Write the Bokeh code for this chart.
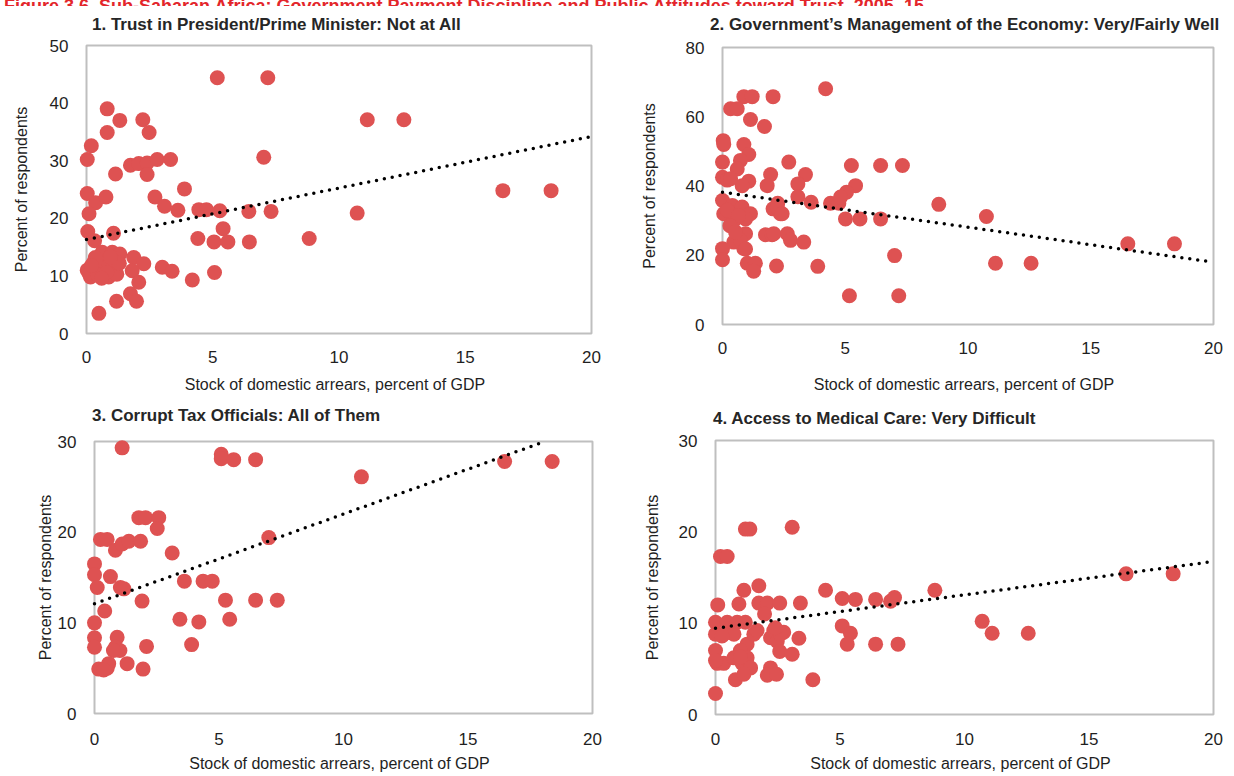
from bokeh.plotting import figure
from bokeh.models import Range1d, FixedTicker, Div
from bokeh.layouts import column, row
from bokeh.embed import file_html
from bokeh.resources import INLINE

# ---------------- data ----------------
fig_title = ("Figure 3.6. Sub-Saharan Africa: Government Payment Discipline and Public "
             "Attitudes toward Trust, 2005\u201315")
titles = [
    "1. Trust in President/Prime Minister: Not at All",
    "2. Government\u2019s Management of the Economy: Very/Fairly Well",
    "3. Corrupt Tax Officials: All of Them",
    "4. Access to Medical Care: Very Difficult",
]
x_label = "Stock of domestic arrears, percent of GDP"
y_label = "Percent of respondents"
x_ticks = [0, 5, 10, 15, 20]
y_ticks_1 = [0, 10, 20, 30, 40, 50]
y_ticks_2 = [0, 20, 40, 60, 80]
y_ticks_3 = [0, 10, 20, 30]
y_ticks_4 = [0, 10, 20, 30]

p1_x = [5.18, 7.18, 0.82, 1.32, 2.23, 0.82, 2.48, 0.19, 0.03, 7.02, 1.74, 2.07, 2.40, 2.80, 3.33,
        2.40, 1.15, 3.88, 0.03, 0.36, 0.77, 2.71, 3.09, 3.62, 0.10, 4.45, 4.75, 5.28, 6.43, 7.31,
        5.41, 0.05, 1.07, 4.41, 5.05, 5.60, 6.45, 8.82, 0.32, 10.72, 11.12, 12.57, 16.49, 18.40,
        0.03, 0.29, 0.55, 0.88, 1.08, 0.62, 1.02, 1.32, 1.87, 2.27, 1.81, 2.07, 0.16, 3.00, 3.39,
        4.19, 5.07, 1.74, 1.98, 1.19, 0.49, 0.10, 0.45, 0.70, 0.90, 1.20, 0.35, 0.80, 0.60, 1.30,
        0.20, 0.95]
p1_y = [44.4, 44.4, 39.0, 37.0, 37.1, 34.9, 34.9, 32.6, 30.2, 30.6, 29.2, 29.5, 29.6, 30.2, 30.2,
        27.6, 27.7, 25.1, 24.3, 22.7, 23.7, 23.7, 22.1, 21.4, 20.8, 21.5, 21.5, 21.3, 21.2, 21.2,
        18.2, 17.7, 17.4, 16.5, 15.9, 15.9, 15.9, 16.5, 16.1, 20.9, 37.1, 37.1, 24.8, 24.8,
        11.0, 12.4, 11.0, 9.8, 11.2, 14.1, 14.1, 13.8, 13.2, 12.1, 10.9, 8.9, 9.8, 11.5, 10.8,
        9.3, 10.6, 6.9, 5.6, 5.6, 3.5, 10.4, 10.2, 12.5, 11.8, 10.3, 13.2, 10.6, 9.6, 12.2,
        11.8, 13.3]

p2_x = [4.20, 0.87, 1.21, 2.06, 0.33, 0.60, 1.14, 1.71, 0.03, 0.05, 0.87, 1.07, 0.73, 0.00, 2.70,
        5.25, 6.44, 7.33, 0.60, 0.00, 0.19, 1.07, 1.96, 1.82, 3.38, 3.07, 0.80, 5.42, 5.05, 3.07,
        3.61, 4.40, 4.74, 8.81, 0.00, 0.40, 0.80, 1.14, 0.05, 0.46, 0.94, 2.25, 2.06, 2.36, 5.01,
        5.60, 6.44, 0.60, 0.94, 1.75, 2.02, 2.64, 2.77, 3.31, 0.46, 0.00, 0.87, 0.00, 1.01, 1.34,
        1.27, 2.20, 3.88, 7.01, 5.17, 7.18, 10.75, 11.12, 12.57, 16.51, 18.41, 0.33, 2.09, 4.81,
        2.23, 2.43, 0.20, 0.65, 0.30, 0.73, 0.53, 0.94]
p2_y = [68.1, 65.8, 65.8, 65.8, 62.3, 62.3, 59.2, 57.2, 53.1, 52.0, 52.0, 49.1, 47.4, 46.9, 46.9,
        45.9, 45.9, 45.9, 44.9, 42.5, 41.7, 41.4, 43.3, 40.1, 43.3, 40.6, 40.1, 40.1, 38.2, 36.9,
        35.3, 35.0, 35.0, 34.7, 35.8, 34.4, 33.9, 32.0, 32.0, 30.0, 30.5, 35.0, 33.4, 32.0, 30.5,
        30.5, 30.5, 26.2, 26.2, 25.9, 25.9, 26.2, 24.3, 23.8, 23.8, 21.9, 21.9, 18.7, 17.7, 17.7,
        15.4, 16.9, 16.8, 19.9, 8.3, 8.3, 31.2, 17.7, 17.7, 23.3, 23.3, 42.1, 26.2, 36.8,
        33.9, 32.0, 33.0, 31.5, 28.5, 24.3, 26.7, 21.8]

p3_x = [1.11, 5.09, 5.09, 5.59, 6.47, 10.72, 1.78, 2.05, 2.58, 2.52, 0.24, 0.51, 0.84, 1.11, 1.38,
        1.85, 7.00, 3.12, 0.00, 0.00, 0.64, 0.11, 1.04, 3.61, 4.36, 4.73, 1.91, 5.26, 6.47, 7.34,
        0.41, 3.43, 4.19, 5.43, 0.00, 0.00, 0.00, 0.91, 0.84, 1.02, 0.76, 2.09, 3.90, 1.31, 0.17,
        0.51, 0.57, 0.37, 1.95, 16.47, 18.38, 1.18]
p3_y = [29.3, 28.6, 28.1, 28.0, 28.0, 26.1, 21.6, 21.6, 21.6, 20.4, 19.2, 19.2, 18.0, 18.7, 19.0,
        19.0, 19.4, 17.7, 16.5, 15.3, 15.1, 13.9, 13.9, 14.6, 14.6, 14.6, 12.4, 12.5, 12.5, 12.5,
        11.3, 10.4, 10.1, 10.4, 10.0, 8.35, 7.3, 8.4, 7.3, 6.95, 6.95, 7.4, 7.6, 5.5, 4.9,
        5.0, 5.5, 4.8, 4.9, 27.8, 27.8, 13.75]

p4_x = [1.20, 1.38, 3.08, 0.20, 0.47, 1.74, 1.14, 4.42, 8.81, 0.09, 0.94, 1.74, 2.08, 2.58, 3.41,
        5.09, 5.62, 6.43, 7.03, 7.19, 1.97, 0.00, 0.47, 0.87, 1.20, 0.00, 0.33, 0.74, 1.27, 1.00,
        2.34, 2.74, 2.21, 2.48, 1.54, 1.67, 3.35, 2.58, 3.08, 5.09, 5.42, 5.29, 6.43, 7.33, 0.00,
        0.07, 0.33, 0.74, 1.07, 1.27, 1.41, 0.80, 1.14, 2.21, 2.08, 2.45, 3.91, 0.00, 10.71, 11.11,
        12.56, 16.49, 18.38, 0.00, 0.26, 1.00, 2.60, 2.40]
p4_y = [20.3, 20.3, 20.5, 17.3, 17.3, 14.1, 13.6, 13.6, 13.6, 12.0, 12.1, 12.2, 12.2, 12.2, 12.2,
        12.7, 12.6, 12.6, 12.4, 12.8, 11.0, 10.1, 10.1, 10.1, 10.1, 8.8, 8.8, 8.8, 7.7, 7.0,
        9.2, 9.0, 8.4, 8.0, 8.8, 9.2, 8.35, 6.9, 6.6, 9.7, 8.9, 7.7, 7.7, 7.7, 7.0,
        5.6, 5.6, 6.2, 5.6, 6.2, 5.1, 3.8, 4.4, 5.1, 4.3, 4.4, 3.8, 2.3, 10.2, 8.9,
        8.9, 15.4, 15.4, 5.9, 8.6, 6.3, 8.8, 9.5]

# linear trend lines: value at x=0 and slope per point of GDP
trend_intercept = [16.3, 38.2, 12.1, 9.45]
trend_slope = [0.895, -1.01, 0.99, 0.365]

# ---------------- styling ----------------
DOT = "#DE5252"
FRAME = "#BFBFBF"
TXT = "#1F1F1F"
RED = "#E3262B"
FONT = "Liberation Sans"
XMAX = 20
PL, PR, PT, PB = 10, 2, 2, 2
COL1_W, COL2_W = 628, 606


def make_panel(i, xs, ys, ymax, yticks, bl, br, bt, bb, fw, fh,
               ylab_standoff, xtick_standoff, xlab_standoff):
    sx = fw / XMAX
    sy = fh / ymax
    p = figure(frame_width=fw + PL + PR, frame_height=fh + PT + PB,
               output_backend="svg", toolbar_location=None, title=None,
               min_border_left=bl, min_border_right=br, min_border_top=bt, min_border_bottom=bb,
               x_range=Range1d(-PL / sx, XMAX + PR / sx),
               y_range=Range1d(-PB / sy, ymax + PT / sy))
    p.outline_line_color = None
    p.background_fill_color = "white"
    p.border_fill_color = "white"
    p.xgrid.visible = False
    p.ygrid.visible = False

    for ax in (p.xaxis[0], p.yaxis[0]):
        ax.axis_line_color = None
        ax.major_tick_line_color = None
        ax.minor_tick_line_color = None
        ax.major_tick_out = 0
        ax.major_tick_in = 0
        ax.major_label_text_font = FONT
        ax.major_label_text_font_size = "17px"
        ax.major_label_text_color = TXT
        ax.axis_label_text_font = FONT
        ax.axis_label_text_font_size = "16px"
        ax.axis_label_text_font_style = "normal"
        ax.axis_label_text_color = TXT
    p.xaxis.ticker = FixedTicker(ticks=x_ticks)
    p.yaxis.ticker = FixedTicker(ticks=yticks)
    p.xaxis.axis_label = x_label
    p.yaxis.axis_label = y_label
    p.yaxis.major_label_standoff = 8
    p.yaxis.axis_label_standoff = ylab_standoff
    p.xaxis.major_label_standoff = xtick_standoff
    p.xaxis.axis_label_standoff = xlab_standoff

    # plot-area border drawn in data space so markers at x=0 are not cut
    p.quad(left=[0], right=[XMAX], bottom=[0], top=[ymax],
           fill_color=None, line_color=FRAME, line_width=2)

    p.scatter(xs, ys, size=15, fill_color=DOT, line_color=None)

    b = trend_intercept[i]
    m = trend_slope[i]
    x_end = XMAX
    if m > 0 and b + m * XMAX > ymax:
        x_end = (ymax - b) / m
    p.line([0, x_end], [b, b + m * x_end], line_color="black", line_width=3.5,
           line_dash="0 8", line_cap="round")
    return p


def title_div(i, width, height, pad_left, pad_top):
    html = ('<div style="padding-left:%dpx;padding-top:%dpx;color:#262626;'
            'font-family:\'Liberation Sans\';font-weight:bold;font-size:17px;'
            'line-height:17px;white-space:nowrap">%s</div>' % (pad_left, pad_top, titles[i]))
    return Div(text=html, width=width, height=height, margin=0,
               styles={"overflow": "hidden"})


# borders (left, right, top, bottom) in px around the padded frame; frame sizes in px
p1 = make_panel(0, p1_x, p1_y, 50, y_ticks_1, 76, 35, 7, 63, 505, 288, 17, 15, 10)
p2 = make_panel(1, p2_x, p2_y, 80, y_ticks_2, 84, 19, 9, 72, 491, 277, 25, 15, 19)
p3 = make_panel(2, p3_x, p3_y, 30, y_ticks_3, 84, 34, 9, 61, 498, 272, 1, 17, 7)
p4 = make_panel(3, p4_x, p4_y, 30, y_ticks_4, 77, 19, 8, 60, 498, 274, 15, 16, 7)

t1 = title_div(0, COL1_W, 30, 92, 10)
t2 = title_div(1, COL2_W, 30, 82, 10)
t3 = title_div(2, COL1_W, 32, 92, 9)
t4 = title_div(3, COL2_W, 32, 85, 12)

head = Div(
    text=('<div style="margin-top:-11px;padding-left:4px;color:%s;font-family:\'Liberation Sans\';'
          'font-weight:bold;font-size:18px;line-height:18px;white-space:nowrap">%s</div>'
          % (RED, fig_title)),
    width=COL1_W + COL2_W, height=6, margin=0, styles={"overflow": "hidden"})

layout = column(head,
                row(column(t1, p1), column(t2, p2)),
                row(column(t3, p3), column(t4, p4)))
open("out.html", "w").write(file_html(layout, INLINE))
